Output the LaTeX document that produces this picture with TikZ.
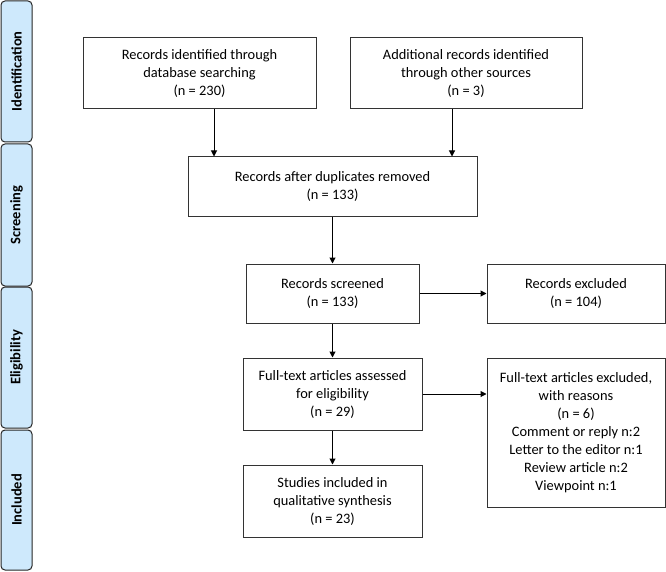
\documentclass[tikz,border=0pt]{standalone}
\usepackage{fontspec}
\setmainfont{Carlito}
\usetikzlibrary{arrows.meta}
\definecolor{bleuclair}{RGB}{206,233,252}
\begin{document}
\begin{tikzpicture}[x=1pt,y=-1pt]
		\tikzstyle{boite}=[draw=black!80, line width=1pt, align=center, inner sep=2pt, font=\fontsize{14.4}{18}\selectfont]
		\tikzstyle{etape}=[draw=black!85, line width=1pt, fill=bleuclair, rounded corners=4pt, minimum width=31pt, font=\fontsize{14.5}{16}\selectfont\bfseries]
		\tikzstyle{fleche}=[line width=1pt, -{Triangle[length=6pt,width=6pt]}]
		\useasboundingbox (0,0) rectangle (666,572);
		% bandeau de gauche
		\node[etape, minimum height=141pt] (ident) at (16.5,71.5) {\rotatebox{90}{Identification}};
		\node[etape, minimum height=142pt] (screen) at (16.5,215) {\rotatebox{90}{Screening}};
		\node[etape, minimum height=141pt] (elig) at (16.5,357.5) {\rotatebox{90}{Eligibility}};
		\node[etape, minimum height=140pt] (incl) at (16.5,500) {\rotatebox{90}{Included}};
		% boites
		\node[boite, minimum width=233pt, minimum height=71pt] (base) at (199.5,73.5) {Records identified through\\database searching\\(n = 230)};
		\node[boite, minimum width=232pt, minimum height=71pt] (autres) at (466,73.5) {Additional records identified\\through other sources\\(n = 3)};
		\node[boite, minimum width=289pt, minimum height=59pt] (doublons) at (332.5,186.5) {Records after duplicates removed\\(n = 133)};
		\node[boite, minimum width=173pt, minimum height=59pt] (tries) at (332.5,293.5) {Records screened\\(n = 133)};
		\node[boite, minimum width=178pt, minimum height=59pt] (exclus) at (576,293.5) {Records excluded\\(n = 104)};
		\node[boite, minimum width=179pt, minimum height=72pt] (texte) at (332.5,394) {Full-text articles assessed\\for eligibility\\(n = 29)};
		\node[boite, minimum width=178pt, minimum height=149pt] (texteexclus) at (576,432.5) {Full-text articles excluded,\\with reasons\\(n = 6)\\Comment or reply n:2\\Letter to the editor n:1\\Review article n:2\\Viewpoint n:1};
		\node[boite, minimum width=179pt, minimum height=72pt] (inclus) at (332.5,501) {Studies included in\\qualitative synthesis\\(n = 23)};
		% fleches
		\draw[fleche] ([xshift=14.5pt]base.south) -- ([xshift=14.5pt]base.south |- doublons.north);
		\draw[fleche] ([xshift=-14pt]autres.south) -- ([xshift=-14pt]autres.south |- doublons.north);
		\draw[fleche] (doublons) -- (tries);
		\draw[fleche] (tries) -- (exclus);
		\draw[fleche] (tries) -- (texte);
		\draw[fleche] (texte.east) -- (texte.east -| texteexclus.west);
		\draw[fleche] (texte) -- (inclus);
	\end{tikzpicture}
\end{document}
